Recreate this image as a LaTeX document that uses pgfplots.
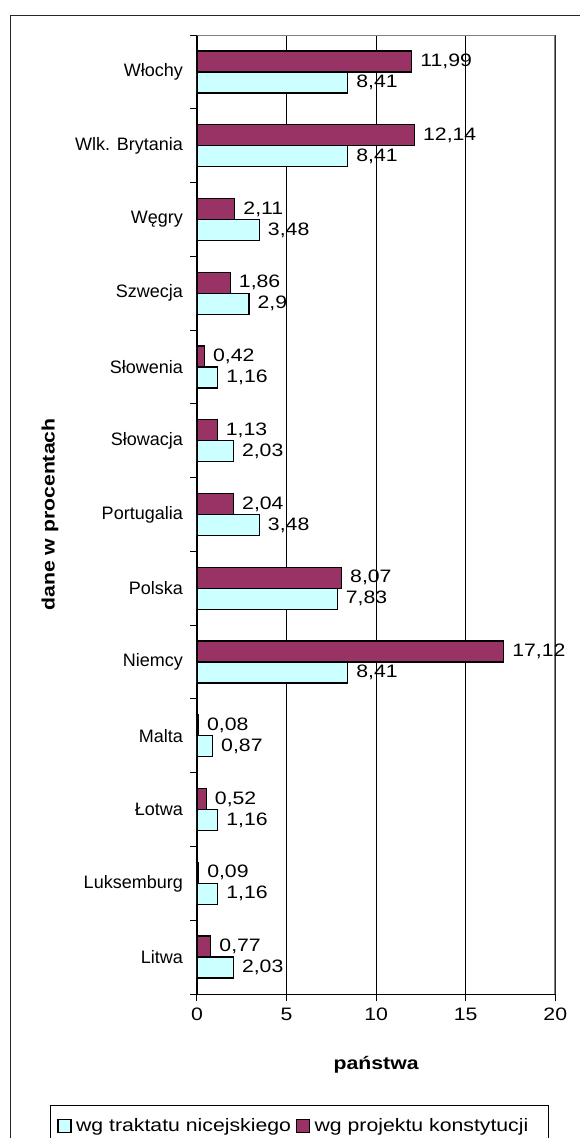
\documentclass[border=0pt]{standalone}
\usepackage{pgfplots}
\pgfplotsset{compat=1.18}
\usepackage{fontspec}
\setmainfont{Liberation Sans}
\newfontfamily\wide{Liberation Sans}[FakeStretch=1.18]
\definecolor{traktat}{HTML}{CCFFFF}
\definecolor{projekt}{HTML}{993366}
\definecolor{ramka}{HTML}{808080}

\begin{document}
\begin{tikzpicture}[font=\fontsize{18}{21}\selectfont\wide]
% outer chart frame (cut on the right and at the bottom)
\draw[black!85, line width=1.5pt] (10.7pt,-1145pt) -- (10.7pt,-15.5pt) -- (590pt,-15.5pt);
\begin{axis}[
    at={(197pt,-994pt)}, anchor=south west,
    scale only axis, width=358.3pt, height=959pt,
    xbar, bar width=21pt,
    xmin=0, xmax=20, xtick={0,5,...,20},
    ymin=-0.5, ymax=12.5,
    ytick={0,...,12},
    yticklabels={Litwa, Luksemburg, Łotwa, Malta, Niemcy, Polska, Portugalia, Słowacja, Słowenia, Szwecja, Węgry, Wlk. Brytania, Włochy},
    minor ytick={-0.5,0.5,...,12.5},
    axis x line=bottom, axis y line=left,
    axis line style={-, black, line width=1pt},
    tick align=outside,
    major tick length=7pt, minor tick length=7pt,
    every major y tick/.append style={draw=none},
    every tick/.append style={black, line width=1pt},
    xmajorgrids, major x grid style={black, line width=0.8pt},
    /pgf/number format/.cd, use comma, 1000 sep={}, assume math mode=true, /pgfplots/.cd,
    xticklabel style={inner sep=0pt, anchor=north, yshift=-7pt},
    yticklabel style={font=\fontsize{18}{21}\selectfont\rmfamily, inner sep=0pt, anchor=east, xshift=-7pt},
    nodes near coords={\pgfmathprintnumber[fixed, precision=2, use comma]{\pgfplotspointmeta}},
    nodes near coords style={anchor=west, inner sep=0pt, xshift=8pt, text=black},
    point meta=x,
    xlabel={\bfseries państwa},
    xlabel style={at={(axis description cs:0.5,-0.074)}, anchor=center},
    ylabel={\bfseries dane w procentach},
    ylabel style={at={(axis description cs:-0.4103,0.5)}, anchor=center},
    legend columns=2,
    legend cell align=left,
    legend style={at={(axis description cs:-0.4103,-0.1157)}, anchor=north west,
        draw=black, line width=1pt, inner xsep=7pt, inner ysep=11pt,
        /tikz/every even column/.append style={column sep=3pt}},
    legend image code/.code={\draw[#1, line width=1.3pt] (0pt,-6.5pt) rectangle (13pt,6.5pt);
        \path[draw=none, fill=none] (16pt,0pt);},
]
\addplot[fill=traktat, draw=black, line width=1.3pt, bar shift=-10.5pt] coordinates {
    (2.03,0) (1.16,1) (1.16,2) (0.87,3) (8.41,4) (7.83,5) (3.48,6)
    (2.03,7) (1.16,8) (2.9,9) (3.48,10) (8.41,11) (8.41,12)};
\addplot[fill=projekt, draw=black, line width=1.3pt, bar shift=10.5pt] coordinates {
    (0.77,0) (0.09,1) (0.52,2) (0.08,3) (17.12,4) (8.07,5) (2.04,6)
    (1.13,7) (0.42,8) (1.86,9) (2.11,10) (12.14,11) (11.99,12)};
\legend{wg traktatu nicejskiego, wg projektu konstytucji\kern11pt}
% grey plot-area border on top and right
\draw[ramka, line width=2pt] (rel axis cs:0,1) -- (rel axis cs:1,1) -- (rel axis cs:1,0);
\end{axis}
\pgfresetboundingbox
\path[use as bounding box] (0pt,0pt) rectangle (580pt,-1138pt);
\end{tikzpicture}
\end{document}
